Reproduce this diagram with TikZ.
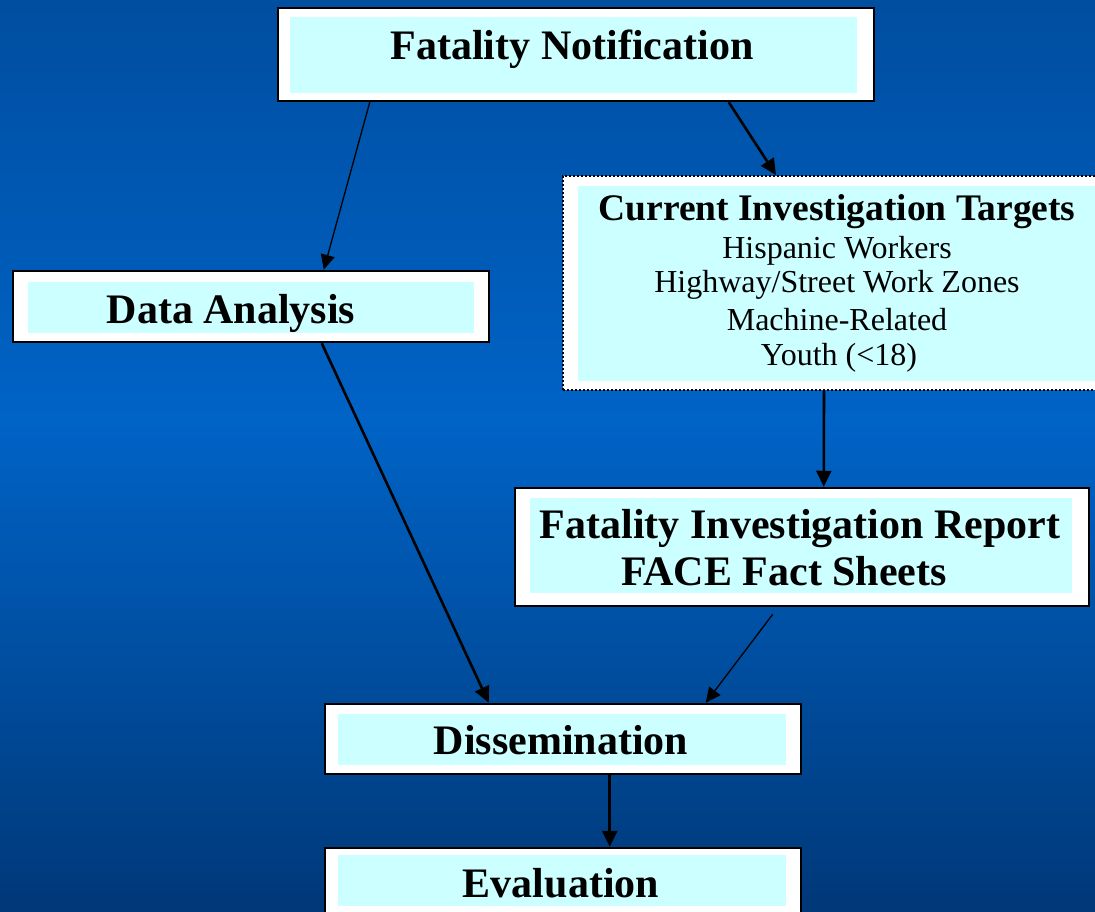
\documentclass[tikz,border=0pt]{standalone}
\usepackage{fontspec}
\setmainfont{Liberation Serif}
\usetikzlibrary{arrows.meta,calc,fit}
\definecolor{bgtop}{RGB}{0,78,160}
\definecolor{bgmid}{RGB}{0,99,198}
\definecolor{bgbot}{RGB}{0,56,120}
\definecolor{cyanfill}{RGB}{204,255,255}
\begin{document}
\begin{tikzpicture}[x=1pt,y=-1pt,
  outerbox/.style={draw=black, line width=2.5pt, fill=white, inner sep=0pt},
  dotbox/.style={preaction={draw=white, line width=2pt}, draw=black, line width=2pt, dotted, fill=white, inner sep=0pt},
  innerbox/.style={fill=cyanfill, draw=none, inner sep=0pt},
  ttl/.style={font=\bfseries\fontsize{42}{50}\selectfont, anchor=base, inner sep=0pt},
  subttl/.style={font=\bfseries\fontsize{37.5}{44}\selectfont, anchor=base, inner sep=0pt},
  item/.style={font=\fontsize{32}{38}\selectfont, anchor=base, inner sep=0pt},
  thinarrow/.style={draw=black, line width=1.3pt, -{Triangle[length=15pt,width=14pt]}},
  thickarrow/.style={draw=black, line width=2.6pt, -{Triangle[length=16pt,width=15pt]}}
]
\useasboundingbox (0,0) rectangle (1095,911);
\clip (0,0) rectangle (1095,911);
% background
\shade[top color=bgtop, bottom color=bgmid] (0,0) rectangle (1095,421);
\shade[top color=bgmid, bottom color=bgbot] (0,420) rectangle (1095,911);

% Fatality Notification
\node[outerbox, fit={(278,8) (874,101)}] (fn) {};
\node[innerbox, fit={(290,17) (857,93)}] (fni) {};
\node[ttl] (fnt) at (572,59) {Fatality Notification};

% Data Analysis
\node[outerbox, fit={(13,271) (489,342)}] (da) {};
\node[innerbox, fit={(28,282) (474,333)}] (dai) {};
\node[ttl] (dat) at (231,323) {Data Analysis};

% Current Investigation Targets
\node[dotbox, fit={(563,176) (1110,390)}] (cit) {};
\node[innerbox, fit={(578,186) (1110,381)}] (citi) {};
\node[subttl] (citt) at (837,220) {Current Investigation Targets};
\node[item] (cit1) at (837,258) {Hispanic Workers};
\node[item] (cit2) at (837,292) {Highway/Street Work Zones};
\node[item] (cit3) at (837,330) {Machine-Related};
\node[item] (cit4) at (839,365) {Youth (<18)};

% Fatality Investigation Report
\node[outerbox, fit={(515,488) (1089,606)}] (fir) {};
\node[innerbox, fit={(530,498) (1072,593)}] (firi) {};
\node[ttl] (firt1) at (800,538) {Fatality Investigation Report};
\node[ttl] (firt2) at (784,585) {FACE Fact Sheets};

% Dissemination
\node[outerbox, fit={(325,704) (801,774)}] (dis) {};
\node[innerbox, fit={(338,714) (786,765)}] (disi) {};
\node[ttl] (dist) at (561,754) {Dissemination};

% Evaluation
\node[outerbox, fit={(325,848) (801,918)}] (ev) {};
\node[innerbox, fit={(338,855) (786,906)}] (evi) {};
\node[ttl] (evt) at (561,897) {Evaluation};

% connectors
\draw[thinarrow] ($(fn.south west)+(93,0)$) -- ($(da.north west)+(312,0)$);
\draw[thickarrow] ($(fn.south west)+(452,0)$) -- ($(cit.north west)+(214,0)$);
\draw[thickarrow] ($(cit.south west)+(262,0)$) -- ($(fir.north west)+(310,0)$);
\draw[thickarrow] ($(da.south west)+(310,0)$) -- ($(dis.north west)+(165,0)$);
\draw[thinarrow] ($(fir.south west)+(259,7)$) -- ($(dis.north west)+(382,0)$);
\draw[thickarrow] ($(dis.south west)+(286,0)$) -- ($(ev.north west)+(286,0)$);
\end{tikzpicture}
\end{document}
